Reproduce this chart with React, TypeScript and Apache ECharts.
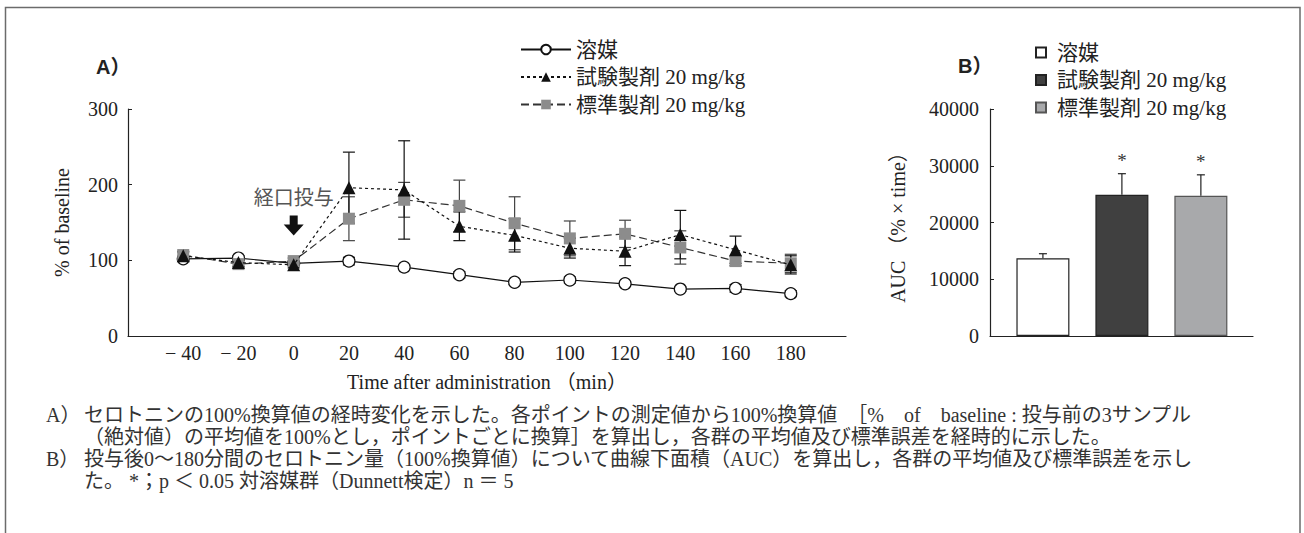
import React, { useEffect, useRef } from 'react';
import * as echarts from 'echarts';

// ---- Panel A data (time course, % of baseline) ----
const times = [-40, -20, 0, 20, 40, 60, 80, 100, 120, 140, 160, 180];
const vehicleMean = [102, 103, 96, 99, 91, 81, 71, 74, 69, 62, 63, 56];
const vehicleErr = [3, 3, 3, 5, 3, 4, 3, 4, 3, 3, 5, 4];
const testMean = [106, 97, 94, 196, 193, 145, 133, 116, 112, 134, 114, 94];
const testErr = [5, 5, 4, 47, 65, 19, 22, 13, 19, 32, 18, 12];
const stdMean = [107, 95, 99, 155, 180, 172, 149, 129, 135, 117, 99, 96];
const stdErr = [5, 4, 4, 29, 23, 34, 35, 23, 18, 22, 6, 12];
const groupNames = ['溶媒', '試験製剤 20 mg/kg', '標準製剤 20 mg/kg'];
const doseTime = 0;
const doseLabel = '経口投与';
const doseArrowLevel = 146;

// ---- Panel B data (AUC) ----
const aucMean = [13700, 24900, 24700];
const aucErr = [800, 3700, 3700];
const aucSig = ['', '*', '*'];

// ---- texts ----
const yTitleA = '% of baseline';
const xTitleA = 'Time after administration （min）';
const yTitleB = 'AUC （% × time）';
const captionLines = [
  { prefix: 'A）', text: 'セロトニンの100%換算値の経時変化を示した。各ポイントの測定値から100%換算値　［%　of　baseline : 投与前の3サンプル' },
  { prefix: '', text: '（絶対値）の平均値を100%とし，ポイントごとに換算］を算出し，各群の平均値及び標準誤差を経時的に示した。' },
  { prefix: 'B）', text: '投与後0～180分間のセロトニン量（100%換算値）について曲線下面積（AUC）を算出し，各群の平均値及び標準誤差を示し' },
  { prefix: '', text: 'た。 *；p ＜ 0.05 対溶媒群（Dunnett検定）n ＝ 5' },
];

const SERIF = "'Liberation Serif', 'Noto Sans CJK JP', serif";
const SANS = "'Liberation Sans', 'Noto Sans CJK JP', sans-serif";
const AX = '#222';

function errRender(color: string, capHalf: number, upOnly: boolean, sig?: string[]) {
  return (params: any, api: any) => {
    const x = api.value(0);
    const m = api.value(1);
    const e = api.value(2);
    const top = api.coord([x, m + e]);
    const bot = api.coord([x, upOnly ? m : m - e]);
    const st = { stroke: color, lineWidth: 1.2 };
    const children: any[] = [
      { type: 'line', shape: { x1: top[0], y1: top[1], x2: bot[0], y2: bot[1] }, style: st },
      { type: 'line', shape: { x1: top[0] - capHalf, y1: top[1], x2: top[0] + capHalf, y2: top[1] }, style: st },
    ];
    if (!upOnly) {
      children.push({ type: 'line', shape: { x1: bot[0] - capHalf, y1: bot[1], x2: bot[0] + capHalf, y2: bot[1] }, style: st });
    }
    if (sig && sig[params.dataIndex]) {
      children.push({
        type: 'text',
        style: {
          text: sig[params.dataIndex], x: top[0], y: top[1] - 13,
          align: 'center', verticalAlign: 'middle', fill: '#333', fontSize: 19, fontFamily: SERIF,
        },
      });
    }
    return { type: 'group', children };
  };
}

export default function App() {
  const ref = useRef<HTMLDivElement>(null);
  useEffect(() => {
    if (!ref.current) return;
    const chart = echarts.init(ref.current, null, { renderer: 'svg' });
    const pts = (means: number[]) => times.map((t, i) => [t, means[i]]);
    const errs = (means: number[], e: number[]) => times.map((t, i) => [t, means[i], e[i]]);

    const graphics: any[] = [
      { type: 'rect', shape: { x: 5.5, y: 7.5, width: 1294.5, height: 560 }, style: { fill: 'none', stroke: '#6b6b6b', lineWidth: 1.5 }, silent: true },
      { type: 'text', x: 96, y: 67, style: { text: 'A）', fontFamily: SANS, fontWeight: 'bold', fontSize: 20, fill: '#222', verticalAlign: 'middle' } },
      { type: 'text', x: 958, y: 66, style: { text: 'B）', fontFamily: SANS, fontWeight: 'bold', fontSize: 20, fill: '#222', verticalAlign: 'middle' } },
    ];
    const lineY = [415, 437, 459, 481];
    captionLines.forEach((c, i) => {
      if (c.prefix) {
        graphics.push({ type: 'text', x: 46, y: lineY[i], style: { text: c.prefix, fontFamily: SERIF, fontSize: 20, fill: '#333', verticalAlign: 'middle' } });
      }
      graphics.push({ type: 'text', x: 84, y: lineY[i], style: { text: c.text, fontFamily: SERIF, fontSize: 20, fill: '#333', verticalAlign: 'middle' } });
    });

    const option: any = {
      animation: false,
      backgroundColor: '#fff',
      textStyle: { fontFamily: SERIF },
      grid: [
        { left: 128, right: 458, top: 109, bottom: 197 },
        { left: 990, right: 51, top: 109, bottom: 197 },
      ],
      xAxis: [
        {
          type: 'value', gridIndex: 0, min: -60, max: 200, interval: 20,
          axisLine: { show: true, onZero: false, lineStyle: { color: AX, width: 1.2 } },
          axisTick: { show: false }, splitLine: { show: false },
          axisLabel: {
            color: '#222', fontSize: 20, fontFamily: SERIF, margin: 7,
            formatter: (v: number) => (v < -40 || v > 180 ? '' : v < 0 ? '\u2212 ' + Math.abs(v) : String(v)),
          },
          name: xTitleA, nameLocation: 'middle', nameGap: 36,
          nameTextStyle: { color: '#222', fontSize: 20, fontFamily: SERIF },
        },
        {
          type: 'value', gridIndex: 1, min: -0.67, max: 2.66,
          axisLine: { show: true, onZero: false, lineStyle: { color: AX, width: 1.2 } },
          axisTick: { show: false }, axisLabel: { show: false }, splitLine: { show: false },
        },
      ],
      yAxis: [
        {
          type: 'value', gridIndex: 0, min: 0, max: 300, interval: 100,
          axisLine: { show: true, onZero: false, lineStyle: { color: AX, width: 1.2 } },
          axisTick: { show: true, inside: true, length: 4, lineStyle: { color: AX } },
          splitLine: { show: false },
          axisLabel: { color: '#222', fontSize: 20, fontFamily: SERIF, margin: 10 },
          name: yTitleA, nameLocation: 'middle', nameGap: 56, nameRotate: 90,
          nameTextStyle: { color: '#222', fontSize: 20, fontFamily: SERIF },
        },
        {
          type: 'value', gridIndex: 1, min: 0, max: 40000, interval: 10000,
          axisLine: { show: true, onZero: false, lineStyle: { color: AX, width: 1.2 } },
          axisTick: { show: true, inside: true, length: 4, lineStyle: { color: AX } },
          splitLine: { show: false },
          axisLabel: { color: '#222', fontSize: 20, fontFamily: SERIF, margin: 11, formatter: (v: number) => String(v) },
          name: yTitleB, nameLocation: 'middle', nameGap: 82, nameRotate: 90,
          nameTextStyle: { color: '#222', fontSize: 20, fontFamily: SERIF },
        },
      ],
      legend: [
        {
          data: groupNames, orient: 'vertical', left: 515, top: 31,
          itemWidth: 50, itemHeight: 12, itemGap: 0.5,
          textStyle: { fontSize: 21, fontFamily: SERIF, color: '#222', lineHeight: 27 },
          selectedMode: false,
        },
        {
          data: groupNames.map((n) => 'B:' + n), orient: 'vertical', left: 1030, top: 34,
          itemWidth: 10, itemHeight: 10, itemGap: 0.5, icon: 'rect',
          formatter: (n: string) => n.replace(/^B:/, ''),
          textStyle: { fontSize: 21, fontFamily: SERIF, color: '#222', lineHeight: 27, padding: [0, 0, 0, 6] },
          selectedMode: false,
        },
      ],
      graphic: graphics,
      series: [
        // error bars (panel A)
        { type: 'custom', xAxisIndex: 0, yAxisIndex: 0, z: 1, renderItem: errRender('#111', 6, false), data: errs(vehicleMean, vehicleErr) },
        { type: 'custom', xAxisIndex: 0, yAxisIndex: 0, z: 1, renderItem: errRender('#444', 6, false), data: errs(stdMean, stdErr) },
        { type: 'custom', xAxisIndex: 0, yAxisIndex: 0, z: 1, renderItem: errRender('#111', 6, false), data: errs(testMean, testErr) },
        {
          name: groupNames[0], type: 'line', xAxisIndex: 0, yAxisIndex: 0, z: 2,
          data: pts(vehicleMean), symbol: 'circle', symbolSize: 12,
          lineStyle: { color: '#111', width: 1.2, type: 'solid' },
          itemStyle: { color: '#fff', borderColor: '#111', borderWidth: 1.2 },
        },
        {
          name: groupNames[2], type: 'line', xAxisIndex: 0, yAxisIndex: 0, z: 3,
          data: pts(stdMean), symbol: 'rect', symbolSize: 12,
          lineStyle: { color: '#333', width: 1.2, type: [8, 4] },
          itemStyle: { color: '#8c8c8c' },
        },
        {
          name: groupNames[1], type: 'line', xAxisIndex: 0, yAxisIndex: 0, z: 4,
          data: pts(testMean), symbol: 'triangle', symbolSize: 13,
          lineStyle: { color: '#111', width: 1.2, type: [3, 3] },
          itemStyle: { color: '#111' },
          markPoint: {
            silent: true,
            symbol: 'path://M6,0 H14 V9 H20 L10,20 L0,9 H6 Z',
            symbolSize: [20, 20],
            itemStyle: { color: '#111' },
            label: {
              show: true, position: 'top', distance: 8, formatter: doseLabel,
              color: '#555', fontSize: 20, fontFamily: SERIF,
            },
            data: [{ coord: [doseTime, doseArrowLevel] }],
          },
        },
        // panel B bars
        ...groupNames.map((n, i) => ({
          name: 'B:' + n, type: 'bar', xAxisIndex: 1, yAxisIndex: 1, z: 2,
          barWidth: 53, barGap: '-100%',
          data: [[i, aucMean[i]]],
          itemStyle: [
            { color: '#ffffff', borderColor: '#222', borderWidth: 1.2 },
            { color: '#404040', borderColor: '#222', borderWidth: 1.2 },
            { color: '#a8a9ab', borderColor: '#555', borderWidth: 1.2 },
          ][i],
        })),
        {
          type: 'custom', xAxisIndex: 1, yAxisIndex: 1, z: 3,
          renderItem: errRender('#222', 4, true, aucSig),
          data: aucMean.map((m, i) => [i, m, aucErr[i]]),
        },
      ],
    };
    chart.setOption(option);
    return () => chart.dispose();
  }, []);
  return <div ref={ref} style={{ position: 'fixed', left: 0, top: 0, width: 1304, height: 533 }} />;
}
